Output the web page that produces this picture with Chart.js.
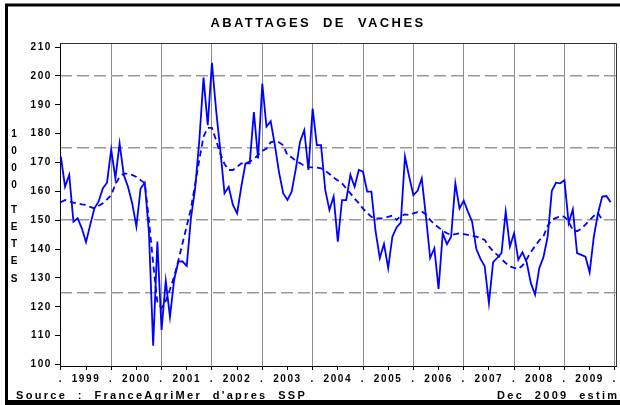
<!DOCTYPE html>
<html>
<head>
<meta charset="utf-8">
<script src="https://cdn.jsdelivr.net/npm/chart.js@4/dist/chart.umd.min.js"></script>
<style>
  html, body { margin: 0; padding: 0; background: #fff; }
  canvas { display: block; }
</style>
</head>
<body>
<canvas id="chart" width="620" height="405"></canvas>
<script>
// donnees mensuelles jan 1999 -> dec 2009 (milliers de tetes)
const firstYear = 1999;
const years = [1999, 2000, 2001, 2002, 2003, 2004, 2005, 2006, 2007, 2008, 2009];

const monthly = [
    172.0, 161.6, 165.7, 149.5, 150.7, 147.2, 142.4, 148.4, 154.1, 156.5, 161.0, 163.0, // 1999
    174.5, 164.5, 176.6, 165.7, 161.6, 155.9, 147.8, 161.0, 163.0, 145.5, 106.5, 142.6, // 2000
    112.0, 129.0, 116.5, 129.4, 135.7, 135.7, 134.2, 150.7, 161.0, 177.7, 199.4, 182.9, // 2001
    204.5, 188.1, 174.3, 159.3, 161.6, 155.3, 152.4, 161.6, 169.7, 169.7, 187.5, 171.4, // 2002
    197.3, 182.4, 184.3, 176.0, 166.5, 159.3, 157.0, 159.9, 167.9, 177.2, 181.2, 167.4, // 2003
    188.7, 176.0, 176.0, 160.5, 153.6, 158.2, 142.6, 157.0, 157.0, 165.7, 161.6, 167.4, // 2004
    166.8, 159.9, 159.9, 146.1, 136.9, 141.8, 133.4, 144.3, 147.5, 149.2, 172.0, 165.1, // 2005
    158.7, 160.2, 164.5, 151.3, 136.9, 140.3, 126.2, 145.5, 141.7, 144.3, 162.8, 154.1, // 2006
    156.8, 153.0, 149.5, 140.0, 136.6, 134.0, 121.3, 135.5, 137.0, 138.6, 153.0, 140.9, // 2007
    145.5, 136.3, 138.9, 135.4, 128.2, 124.2, 133.4, 137.2, 144.3, 160.2, 163.0, 162.8, // 2008
    163.9, 149.0, 153.8, 138.6, 138.0, 137.4, 131.9, 144.3, 152.4, 158.2, 158.4, 156.2  // 2009
];

// courbe lissee (pointilles)
const trend = [
    156.2, 157.0, 156.5, 156.1, 155.8, 155.5, 155.3, 154.6, 154.1, 155.0, 155.9, 157.2,
    158.7, 162.5, 165.0, 166.2, 166.0, 165.7, 165.0, 163.9, 162.8, 150.0, 135.0, 121.5,
    119.6, 122.0, 126.0, 130.5, 136.0, 142.0, 148.0, 154.0, 162.5, 171.0, 179.0, 182.0,
    182.0, 177.7, 173.0, 169.5, 167.4, 167.4, 168.5, 169.7, 169.7, 170.3, 171.2, 172.6,
    174.0, 174.8, 177.0, 177.4, 177.0, 176.0, 172.5, 171.8, 170.5, 169.8, 168.8, 168.4,
    168.3, 168.2, 168.0, 167.2, 166.0, 164.8, 163.8, 162.8, 161.0, 159.3, 157.5, 155.9,
    154.0, 152.5, 151.2, 150.6, 150.6, 150.7, 151.2, 151.6, 150.1, 151.5, 152.0, 151.8,
    152.4, 152.8, 153.0, 152.0, 150.1, 148.6, 147.5, 146.4, 145.5, 144.9, 145.2, 145.5,
    145.2, 144.9, 144.5, 144.3, 143.8, 143.2, 141.0, 139.2, 138.0, 136.5, 135.2, 134.0,
    133.5, 133.1, 134.3, 136.5, 139.0, 141.0, 143.0, 144.5, 148.0, 150.2, 150.8, 151.4,
    151.2, 149.5, 146.6, 146.2, 147.0, 148.5, 150.0, 151.5, 152.5, 150.1, null, null
];

const yTicks = [100, 110, 120, 130, 140, 150, 160, 170, 180, 190, 200, 210];
const refLines = [125, 150, 175, 200];
const yLabelTop = ['1', '0', '0', '0'];
const yLabelBottom = ['T', 'E', 'T', 'E', 'S'];

const titleText = 'ABATTAGES  DE  VACHES';
const sourceText = "Source  :  FranceAgriMer  d'apres  SSP";
const dateText = 'Dec  2009  estime';

const FONT = '"Liberation Sans", Arial, sans-serif';

// espacement des lettres comme sur l'original
const spacingPlugin = {
    id: 'spacing',
    beforeLayout(chart) { chart.ctx.letterSpacing = '1.6px'; },
    beforeDraw(chart) { chart.ctx.letterSpacing = '1.6px'; }
};

// cadre, titre, libelle vertical et source
const decorPlugin = {
    id: 'decor',
    afterDraw(chart) {
        const ctx = chart.ctx;
        const a = chart.chartArea;
        ctx.save();
        // cadre du graphique
        ctx.strokeStyle = '#333';
        ctx.lineWidth = 1;
        ctx.beginPath();
        ctx.moveTo(Math.round(a.left) + 0.5, Math.round(a.top) + 0.5);
        ctx.lineTo(Math.round(a.right) - 0.5, Math.round(a.top) + 0.5);
        ctx.lineTo(Math.round(a.right) - 0.5, Math.round(a.bottom) + 0.5);
        ctx.stroke();

        ctx.fillStyle = '#000';
        // titre
        ctx.letterSpacing = '2.4px';
        ctx.font = 'bold 13px ' + FONT;
        ctx.textAlign = 'center';
        ctx.textBaseline = 'middle';
        ctx.fillText(titleText, 318, 23);

        // libelle vertical
        ctx.letterSpacing = '0px';
        ctx.font = 'bold 10px ' + FONT;
        yLabelTop.forEach((c, i) => ctx.fillText(c, 14, 134 + i * 17.2));
        yLabelBottom.forEach((c, i) => ctx.fillText(c, 14, 210 + i * 17.2));

        // source
        ctx.letterSpacing = '2.3px';
        ctx.font = 'bold 11px ' + FONT;
        ctx.textAlign = 'left';
        ctx.fillText(sourceText, 16, 396);
        ctx.fillText(dateText, 497, 396);

        // cadre exterieur
        ctx.strokeStyle = '#000';
        ctx.lineWidth = 3;
        ctx.beginPath();
        ctx.moveTo(6.5, 405);
        ctx.lineTo(6.5, 5);
        ctx.lineTo(620, 5);
        ctx.stroke();
        ctx.fillRect(5, 400, 615, 5);
        ctx.restore();
    }
};

const ctx = document.getElementById('chart').getContext('2d');

new Chart(ctx, {
    type: 'line',
    data: {
        datasets: [{
            label: 'Abattages',
            data: monthly.map((v, i) => ({x: i, y: v})),
            borderColor: '#0000ff',
            borderWidth: 1.8,
            pointRadius: 0,
            tension: 0,
            fill: false
        }, {
            label: 'Tendance',
            data: trend.map((v, i) => ({x: i, y: v})),
            borderColor: '#0000ff',
            borderWidth: 1.8,
            borderDash: [6, 4],
            pointRadius: 0,
            tension: 0,
            fill: false,
            spanGaps: false
        }]
    },
    options: {
        responsive: false,
        animation: false,
        events: [],
        layout: {padding: {top: 43, right: 1, left: 0, bottom: 0}},
        plugins: {
            legend: {display: false},
            tooltip: {enabled: false},
            title: {display: false}
        },
        scales: {
            x: {
                type: 'linear',
                position: 'bottom',
                min: -0.2,
                max: 132.5,
                afterFit(scale) { scale.height = 39; },
                afterBuildTicks(scale) {
                    const t = [];
                    for (let m = 0; m <= years.length * 12; m += 6) t.push({value: m});
                    scale.ticks = t;
                },
                ticks: {
                    autoSkip: false,
                    maxRotation: 0,
                    padding: 3,
                    color: '#000',
                    font: {family: FONT, size: 10, weight: 'bold'},
                    callback: v => (v % 12 === 0 ? '.' : String(firstYear + (v - 6) / 12))
                },
                grid: {
                    color: c => (c.tick && c.tick.value % 12 === 0 && c.tick.value > 0) ? '#8c8c8c' : 'rgba(0,0,0,0)',
                    tickColor: '#000',
                    tickLength: 4,
                    lineWidth: 1
                },
                border: {display: true, color: '#000', width: 1}
            },
            y: {
                type: 'linear',
                position: 'left',
                min: 99.5,
                max: 211.4,
                afterFit(scale) { scale.width = 60; },
                afterBuildTicks(scale) { scale.ticks = yTicks.map(v => ({value: v})); },
                ticks: {
                    padding: 3,
                    color: '#000',
                    font: {family: FONT, size: 10, weight: 'bold'}
                },
                grid: {
                    drawOnChartArea: false,
                    tickColor: '#000',
                    tickLength: 5
                },
                border: {display: true, color: '#000', width: 1}
            },
            yRef: {
                type: 'linear',
                position: 'left',
                min: 99.5,
                max: 211.4,
                afterFit(scale) { scale.width = 0; },
                afterBuildTicks(scale) { scale.ticks = refLines.map(v => ({value: v})); },
                ticks: {display: false},
                grid: {
                    color: '#9a9a9a',
                    lineWidth: 1.5,
                    drawTicks: false
                },
                border: {display: false, dash: [12, 5]}
            }
        }
    },
    plugins: [spacingPlugin, decorPlugin]
});
</script>
</body>
</html>
